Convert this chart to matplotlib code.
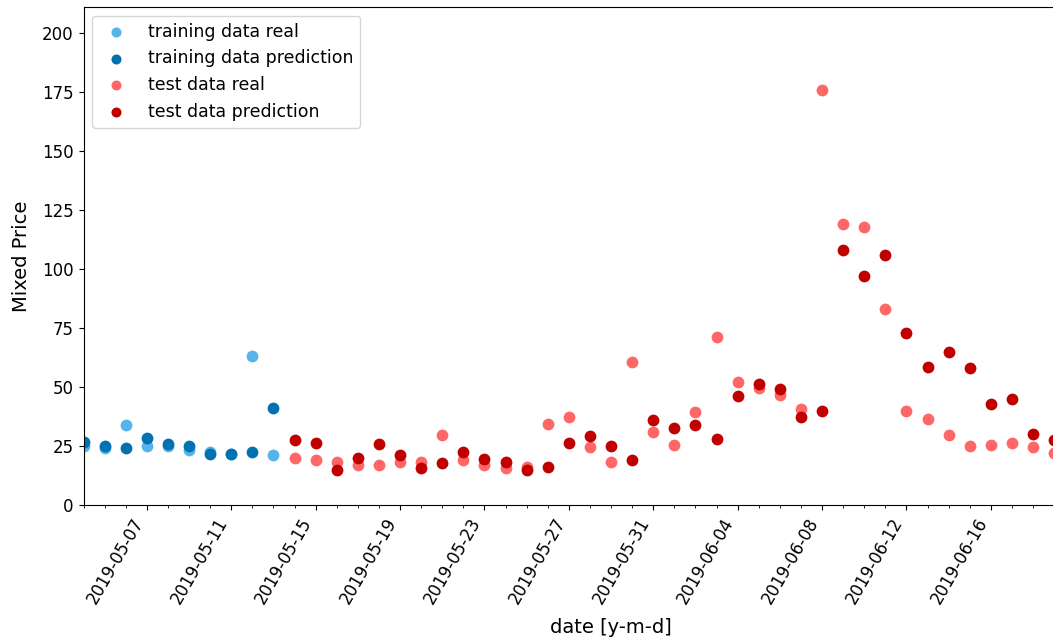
import matplotlib
matplotlib.use("Agg")
import matplotlib.pyplot as plt
import matplotlib.dates as mdates
import numpy as np
import pandas as pd

# daily mixed price, training period
train_dates = pd.date_range("2019-05-04", "2019-05-13", freq="D")
train_real = [24.8, 24.1, 33.7, 25.2, 24.8, 23.1, 22.3, 21.5, 63.2, 21.2]
train_pred = [26.9, 25.2, 24.0, 28.3, 25.9, 25.2, 21.8, 21.8, 22.6, 41.2]

# daily mixed price, test period
test_dates = pd.date_range("2019-05-14", "2019-06-19", freq="D")
test_real = [19.8, 19.1, 18.1, 17.1, 17.1, 18.1, 18.1, 29.8, 19.1, 17.0,
             15.6, 16.0, 34.3, 37.1, 24.5, 18.4, 60.7, 30.9, 25.3, 39.3,
             71.0, 52.2, 49.5, 46.4, 40.5, 175.9, 119.1, 117.9, 82.9, 40.0,
             36.6, 29.6, 25.0, 25.5, 26.4, 24.5, 22.2]
test_pred = [27.5, 26.2, 14.7, 20.1, 25.9, 21.2, 15.6, 17.7, 22.6, 19.5,
             18.1, 14.9, 16.0, 26.2, 29.4, 24.8, 19.0, 36.1, 32.7, 33.7,
             28.1, 46.1, 51.4, 49.2, 37.4, 39.8, 107.9, 97.1, 105.8, 72.7,
             58.4, 64.9, 57.9, 43.0, 44.7, 30.1, 27.5]

plt.rcParams["font.size"] = 12

fig = plt.figure(figsize=(10.53, 6.43), dpi=100)
ax = fig.add_axes([83.5 / 1053, 138 / 643, (1138.5 - 83.5) / 1053, 498 / 643])

ax.scatter(train_dates, train_real, s=72, color="#56B4E9", linewidths=0, label="training data real")
ax.scatter(train_dates, train_pred, s=72, color="#0072B2", linewidths=0, label="training data prediction")
ax.scatter(test_dates, test_real, s=72, color="#FF6666", linewidths=0, label="test data real")
ax.scatter(test_dates, test_pred, s=72, color="#C00000", linewidths=0, label="test data prediction")

ax.set_xlim(pd.Timestamp("2019-05-04"), pd.Timestamp("2019-06-23"))
ax.set_ylim(0, 211)

ax.set_xticks(pd.date_range("2019-05-07", "2019-06-16", freq="4D"))
ax.xaxis.set_minor_locator(mdates.DayLocator())
ax.xaxis.set_major_formatter(mdates.DateFormatter("%Y-%m-%d"))
plt.setp(ax.get_xticklabels(), rotation=60, ha="right")

ax.set_xlabel("date [y-m-d]", fontsize=14, labelpad=8)
ax.set_ylabel("Mixed Price", fontsize=14, labelpad=8)
ax.legend(loc="upper left", fontsize=12.5, markerscale=0.85)

fig.savefig("out.png", dpi=100)
